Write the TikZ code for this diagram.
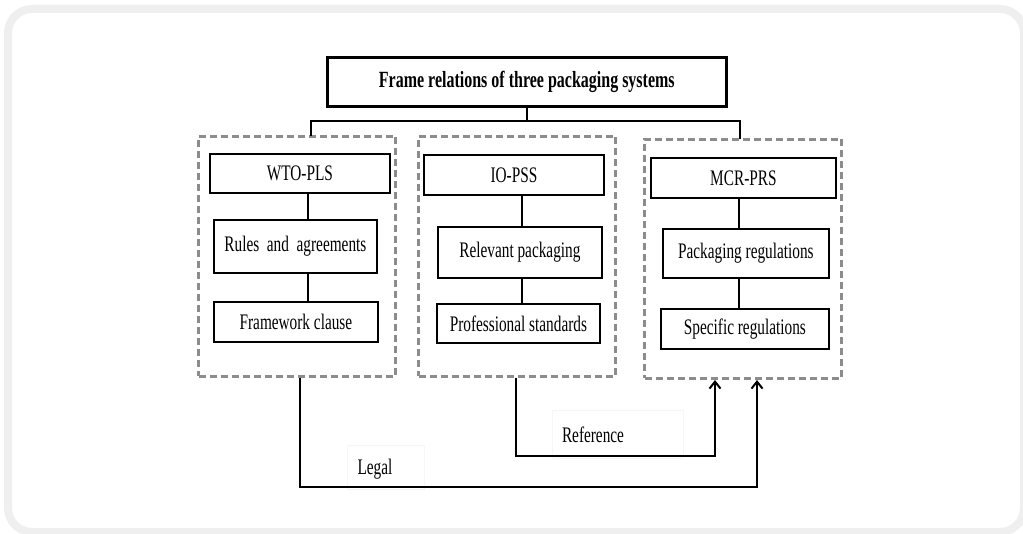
\documentclass[tikz,border=0pt]{standalone}
\usepackage{fontspec}
\setmainfont{Liberation Serif}
\usepackage{graphicx}
\usetikzlibrary{arrows.meta}
\definecolor{framegray}{HTML}{EFEFEF}
\definecolor{dashgray}{HTML}{8C8C8C}
\definecolor{faint}{HTML}{F6F6F6}
\newcommand{\stretchtext}[1]{\scalebox{1}[1.45]{#1}}
\tikzset{
  titlebox/.style={draw, line width=2.6pt, inner sep=0pt, anchor=north west,
    font=\fontsize{16}{19}\selectfont\bfseries},
  itembox/.style={draw, line width=1.8pt, inner sep=0pt, anchor=north west,
    font=\fontsize{15.3}{18}\selectfont},
  groupbox/.style={draw=dashgray, line width=3pt, dash pattern=on 7pt off 4pt,
    inner sep=0pt, anchor=north west},
  labelbox/.style={draw=faint, line width=0.6pt, fill=white, inner sep=0pt,
    anchor=north west, font=\fontsize{15.3}{18}\selectfont},
  conn/.style={line width=2.3pt, line cap=rect},
  thinconn/.style={line width=1.5pt},
  arrowconn/.style={line width=2.3pt, -{Straight Barb[length=7pt,width=11pt,line width=2pt]}},
}
\begin{document}
\begin{tikzpicture}[x=1pt,y=-1pt]
\useasboundingbox (0,0) rectangle (1023,534);
\fill[white] (0,0) rectangle (1023,534);
\draw[framegray, line width=8pt, rounded corners=24pt] (8,9) rectangle (1024,532);

% label boxes (behind lines)
\node[labelbox, minimum width=131, minimum height=48] (refbox) at (552,410) {};
\node[labelbox, minimum width=77, minimum height=44] (legbox) at (347,445) {};

% title
\node[titlebox, minimum width=399, minimum height=49] (T) at (326,56)
  {\stretchtext{Frame relations of three packaging systems}};

% group boxes
\node[groupbox, minimum width=197, minimum height=240] (L) at (197,135) {};
\node[groupbox, minimum width=197, minimum height=240] (M) at (417,135) {};
\node[groupbox, minimum width=197, minimum height=239] (R) at (643,138) {};

% left column
\node[itembox, minimum width=180, minimum height=39] (W) at (209,153) {\stretchtext{WTO-PLS}};
\node[itembox, minimum width=163, minimum height=53] (Ru) at (213,219) {\stretchtext{Rules~ and~ agreements}};
\node[itembox, minimum width=164, minimum height=40] (F) at (213,301) {\stretchtext{Framework clause}};

% middle column
\node[itembox, minimum width=180, minimum height=40] (I) at (423,154) {\stretchtext{IO-PSS}};
\node[itembox, minimum width=164, minimum height=51] (Re) at (437,226) {\stretchtext{Relevant packaging}};
\node[itembox, minimum width=163, minimum height=39] (P) at (436,303) {\stretchtext{Professional standards}};

% right column
\node[itembox, minimum width=185, minimum height=40] (C) at (650,157) {\stretchtext{MCR-PRS}};
\node[itembox, minimum width=166, minimum height=49] (Pa) at (662,228) {\stretchtext{Packaging regulations}};
\node[itembox, minimum width=168, minimum height=40] (S) at (660,308) {\stretchtext{Specific regulations}};

% title connectors
\draw[conn] (T.south) -- (T.south |- 0,121);
\draw[conn] (L.north -| 311,0) -- (311,121) -- (740,121) -- (R.north -| 740,0);

% inner connectors
\draw[thinconn] (W.south -| 308,0) -- (Ru.north -| 308,0);
\draw[thinconn] (Ru.south -| 308,0) -- (F.north -| 308,0);
\draw[thinconn] (I.south -| 522,0) -- (Re.north -| 522,0);
\draw[thinconn] (Re.south -| 522,0) -- (P.north -| 522,0);
\draw[thinconn] (C.south -| 739,0) -- (Pa.north -| 739,0);
\draw[thinconn] (Pa.south -| 739,0) -- (S.north -| 739,0);

% bottom relations
\draw[arrowconn] (M.south -| 516,0) -- (516,456) -- (715,456) -- (R.south -| 715,0);
\draw[arrowconn] (L.south -| 300,0) -- (300,487) -- (757,487) -- (R.south -| 757,0);

% labels
\node[font=\fontsize{15.3}{18}\selectfont] (reflabel) at (593,435) {\stretchtext{Reference}};
\node[font=\fontsize{15.3}{18}\selectfont] (leglabel) at (375,469) {\stretchtext{Legal}};
\end{tikzpicture}
\end{document}
